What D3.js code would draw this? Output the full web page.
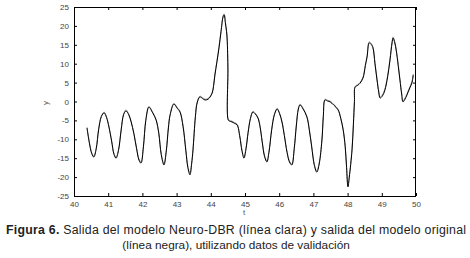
<!DOCTYPE html>
<html><head><meta charset="utf-8">
<script src="https://cdn.jsdelivr.net/npm/d3@7"></script>
<style>html,body{margin:0;padding:0;background:#fff;}svg{display:block;}</style>
</head><body>
<script>
const tValues = [40.38,40.45,40.52,40.58,40.65,40.72,40.80,40.88,40.95,41.02,41.10,41.17,41.23,41.30,41.38,41.45,41.52,41.60,41.67,41.75,41.83,41.90,41.96,42.03,42.10,42.19,42.30,42.40,42.48,42.55,42.63,42.70,42.76,42.81,42.92,43.02,43.10,43.19,43.27,43.33,43.39,43.44,43.48,43.55,43.60,43.68,43.76,43.83,43.92,43.98,44.04,44.08,44.12,44.18,44.24,44.30,44.36,44.39,44.43,44.47,44.50,44.51,44.55,44.62,44.70,44.77,44.85,44.91,44.97,45.03,45.09,45.16,45.23,45.30,45.38,45.44,45.50,45.57,45.64,45.70,45.78,45.86,45.94,46.01,46.08,46.15,46.23,46.30,46.37,46.44,46.50,46.56,46.61,46.70,46.81,46.88,46.95,47.03,47.10,47.17,47.25,47.29,47.34,47.42,47.49,47.60,47.72,47.80,47.87,47.93,47.97,48.01,48.05,48.13,48.17,48.20,48.22,48.30,48.36,48.45,48.52,48.57,48.63,48.68,48.74,48.80,48.86,48.91,48.95,49.02,49.09,49.17,49.24,49.30,49.33,49.38,49.42,49.48,49.53,49.58,49.62,49.70,49.77,49.83,49.88,49.92];
const originalY = [-7.0,-11,-13.8,-14.7,-12.5,-7.5,-4.0,-3.0,-4.2,-6.7,-10.5,-14.0,-15.0,-13.0,-7.5,-3.5,-2.5,-3.5,-5.4,-8.5,-12.5,-15.5,-16.3,-12.0,-5.0,-1.5,-3.0,-4.9,-8.5,-14.0,-16.8,-13.0,-7.0,-3.6,-0.7,-1.8,-2.8,-6.7,-13,-17.5,-19.4,-16.5,-12.8,-4.0,-0.4,1.2,0.8,0.4,0.6,1.2,2.2,4.0,7.0,10.5,14.2,18.5,22.4,22.9,20.5,17.6,9.1,-4.9,-5.2,-5.4,-5.8,-6.2,-9.4,-13,-15.0,-12.5,-8.3,-4.5,-2.8,-3.3,-4.4,-6.7,-10.5,-14.5,-16.0,-13.5,-7.5,-3.5,-2.0,-3.2,-5.4,-9,-13.5,-16.0,-16.8,-12.5,-6.5,-2.0,-0.9,-2.0,-4.1,-7.5,-12,-17.0,-18.7,-16.5,-10.2,-4.0,0.4,0.1,-0.1,-1.0,-2.2,-4.5,-7.5,-12,-17.5,-22.6,-20.0,-12.8,-6.0,0.0,3.8,4.3,4.8,6.2,9.5,11.8,15.5,15.2,14.2,10.0,5.7,2.5,0.9,1.5,3.0,6.5,11.0,15.5,16.8,15.5,13.6,9.5,5.7,2.0,-0.1,1.0,2.5,3.8,4.9,7.0];
const neuroY = [-6.8,-10.8,-13.6,-14.4,-12.3,-7.2,-3.8,-2.8,-4.0,-6.5,-10.3,-13.8,-14.7,-12.8,-7.3,-3.3,-2.2,-3.3,-5.2,-8.3,-12.3,-15.2,-16.0,-11.8,-4.8,-1.3,-2.8,-4.7,-8.3,-13.8,-16.5,-12.8,-6.8,-3.4,-0.5,-1.6,-2.6,-6.5,-12.8,-17.2,-19.0,-16.2,-12.5,-3.8,-0.2,1.4,1.0,0.6,0.8,1.4,2.4,4.2,7.2,10.8,14.5,18.8,22.7,23.2,20.8,17.9,9.4,-4.7,-5.0,-5.2,-5.6,-6.0,-9.2,-12.8,-14.7,-12.3,-8.1,-4.3,-2.6,-3.1,-4.2,-6.5,-10.3,-14.2,-15.7,-13.3,-7.3,-3.3,-1.8,-3.0,-5.2,-8.8,-13.3,-15.7,-16.5,-12.3,-6.3,-1.8,-0.7,-1.8,-3.9,-7.3,-11.8,-16.7,-18.4,-16.2,-10.0,-3.8,0.6,0.3,0.1,-0.8,-2.0,-4.3,-7.3,-11.8,-17.2,-22.2,-19.7,-12.5,-5.8,0.2,4.0,4.5,5.0,6.4,9.8,12.1,15.8,15.5,14.5,10.3,6.0,2.8,1.2,1.8,3.3,6.8,11.3,15.8,17.1,15.8,13.9,9.8,6.0,2.3,0.2,1.3,2.8,4.1,5.2,7.3];
const xTicks = [40,41,42,43,44,45,46,47,48,49,50];
const yTicks = [-25,-20,-15,-10,-5,0,5,10,15,20,25];

const W = 470, H = 258;
const m = {left:74, right:54, top:7, bottom:62};
const svg = d3.select("body").append("svg").attr("width", W).attr("height", H);
const x = d3.scaleLinear().domain([40,50]).range([m.left, W - m.right]);
const y = d3.scaleLinear().domain([-25,25]).range([H - m.bottom, m.top]);

const tickFont = "Liberation Sans, Arial, sans-serif";
const gx = svg.append("g").attr("transform", `translate(0,${H - m.bottom})`)
  .call(d3.axisBottom(x).tickValues(xTicks).tickSize(-3).tickPadding(5).tickFormat(d3.format("d")));
const gxt = svg.append("g").attr("transform", `translate(0,${m.top})`)
  .call(d3.axisTop(x).tickValues(xTicks).tickSize(-3).tickFormat(""));
const gy = svg.append("g").attr("transform", `translate(${m.left},0)`)
  .call(d3.axisLeft(y).tickValues(yTicks).tickSize(-3).tickPadding(5).tickFormat(d3.format("d")));
const gyr = svg.append("g").attr("transform", `translate(${W - m.right},0)`)
  .call(d3.axisRight(y).tickValues(yTicks).tickSize(-3).tickFormat(""));
[gx,gxt,gy,gyr].forEach(g => {
  g.select(".domain").remove();
  g.selectAll("line").attr("stroke", "#000").attr("stroke-width", 1);
  g.selectAll("text").attr("font-family", tickFont).attr("font-size", 8).attr("fill", "#444");
});
gy.selectAll("text").text(d => d < 0 ? "-" + Math.abs(d) : d);

svg.append("rect").attr("x", m.left + 0.5).attr("y", m.top + 0.5)
  .attr("width", W - m.left - m.right - 1).attr("height", H - m.top - m.bottom)
  .attr("fill", "none").attr("stroke", "#000").attr("stroke-width", 1);

const mk = arr => d3.line().x((d,i) => x(tValues[i])).y(d => y(d)).curve(d3.curveCatmullRom.alpha(0.5))(arr);
svg.append("path").attr("d", mk(neuroY)).attr("fill","none").attr("stroke","#9a9a9a").attr("stroke-width",1);
svg.append("path").attr("d", mk(originalY)).attr("fill","none").attr("stroke","#000").attr("stroke-width",1);

svg.append("text").attr("x", 244).attr("y", 215).attr("text-anchor","middle")
  .attr("font-family", tickFont).attr("font-size", 8).attr("fill", "#555").text("t");
svg.append("text").attr("transform","translate(48,103) rotate(-90)").attr("text-anchor","middle")
  .attr("font-family", tickFont).attr("font-size", 8).attr("fill", "#555").text("y");

const cap = svg.append("text").attr("x", 6).attr("y", 234)
  .attr("textLength", 460).attr("lengthAdjust", "spacing")
  .attr("font-family", tickFont).attr("font-size", 12.3).attr("fill", "#222");
cap.append("tspan").attr("font-weight","bold").text("Figura 6.");
cap.append("tspan").text(" Salida del modelo Neuro-DBR (línea clara) y salida del modelo original");
svg.append("text").attr("x", 236).attr("y", 249).attr("text-anchor", "middle")
  .attr("font-family", tickFont).attr("font-size", 11.8).attr("fill", "#222")
  .text("(línea negra), utilizando datos de validación");
</script>
</body></html>
